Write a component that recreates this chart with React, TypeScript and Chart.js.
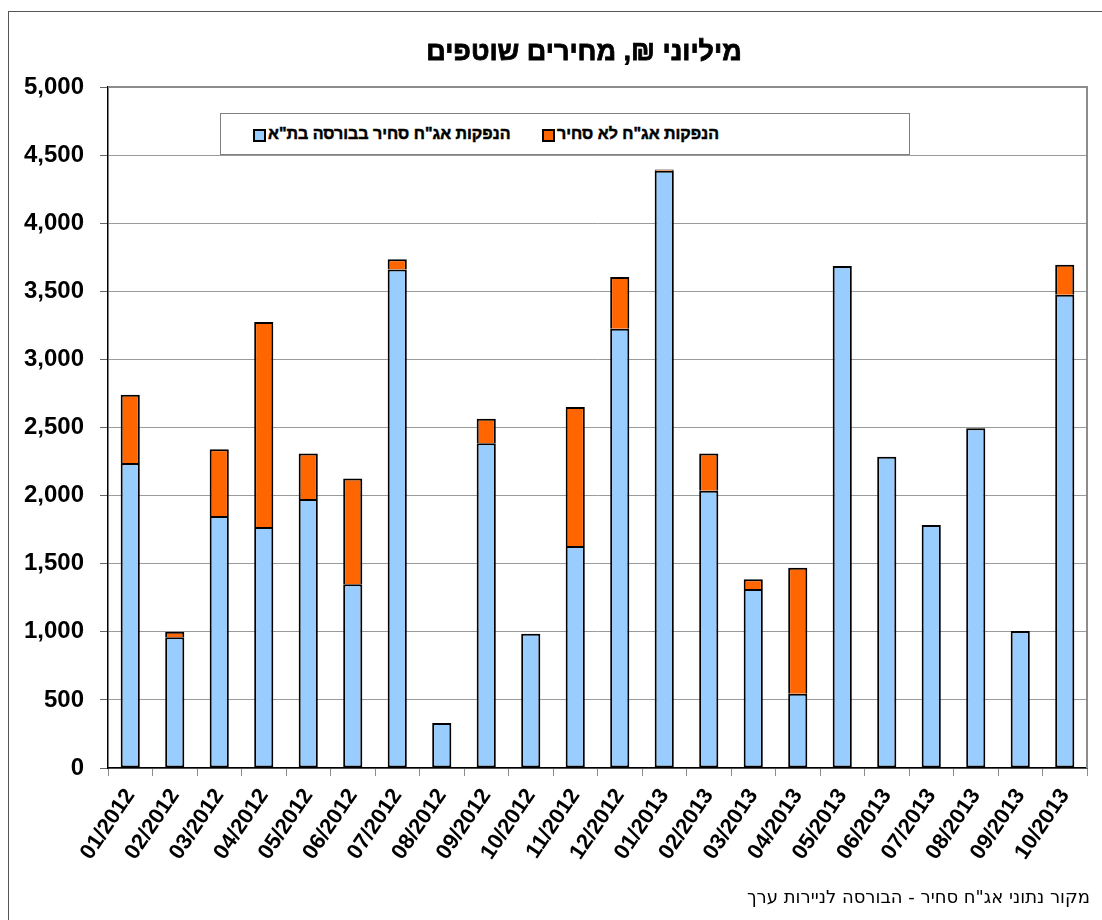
import React, { useEffect, useRef } from "react";
import { Chart, registerables } from "chart.js";

Chart.register(...registerables);

const categories = [
  "01/2012", "02/2012", "03/2012", "04/2012", "05/2012", "06/2012",
  "07/2012", "08/2012", "09/2012", "10/2012", "11/2012", "12/2012",
  "01/2013", "02/2013", "03/2013", "04/2013", "05/2013", "06/2013",
  "07/2013", "08/2013", "09/2013", "10/2013",
];

const tradedValues = [
  2240, 960, 1850, 1770, 1975, 1350, 3660, 330, 2385, 985, 1630, 3225,
  4385, 2035, 1315, 545, 3685, 2285, 1785, 2495, 1005, 3475,
];

const nonTradedValues = [
  500, 40, 490, 1505, 335, 775, 75, null, 180, null, 1020, 380,
  10, 275, 70, 925, null, null, null, null, null, 220,
];

const tradedLabel = 'הנפקות אג"ח סחיר בבורסה בת"א';
const nonTradedLabel = 'הנפקות אג"ח לא סחיר';
const titleText = "מיליוני ₪, מחירים שוטפים";
const sourceText = 'מקור נתוני אג"ח סחיר - הבורסה לניירות ערך';

const FONT = "Arial, 'Liberation Sans', sans-serif";

const plotFrame = {
  id: "plotFrame",
  beforeDatasetsDraw(chart: any) {
    const { ctx, chartArea } = chart;
    ctx.save();
    ctx.strokeStyle = "#8c8c8c";
    ctx.lineWidth = 2;
    ctx.beginPath();
    ctx.moveTo(chartArea.left, chartArea.top);
    ctx.lineTo(chartArea.right, chartArea.top);
    ctx.lineTo(chartArea.right, chartArea.bottom);
    ctx.stroke();
    ctx.restore();
  },
};

export default function App() {
  const canvasRef = useRef<HTMLCanvasElement | null>(null);

  useEffect(() => {
    if (!canvasRef.current) return;
    const chart = new Chart(canvasRef.current, {
      type: "bar",
      data: {
        labels: categories,
        datasets: [
          {
            label: tradedLabel,
            data: tradedValues,
            backgroundColor: "#99CCFF",
            borderColor: "#000000",
            borderWidth: 2,
            borderSkipped: false,
            barPercentage: 0.43,
            categoryPercentage: 1,
          },
          {
            label: nonTradedLabel,
            data: nonTradedValues as any,
            backgroundColor: "#FF6600",
            borderColor: "#000000",
            borderWidth: { top: 2, left: 2, right: 2, bottom: 0 },
            borderSkipped: false,
            barPercentage: 0.43,
            categoryPercentage: 1,
          },
        ],
      },
      options: {
        responsive: false,
        animation: false,
        devicePixelRatio: 1,
        layout: { padding: { top: 87, left: 0, right: 15, bottom: 0 } },
        plugins: {
          legend: { display: false },
          title: { display: false },
          tooltip: { enabled: false },
        },
        scales: {
          x: {
            stacked: true,
            offset: true,
            grid: {
              offset: true,
              drawOnChartArea: false,
              drawTicks: true,
              tickLength: 8,
              color: "#8c8c8c",
            },
            border: { color: "#000000", width: 1.5 },
            ticks: {
              autoSkip: false,
              maxRotation: 56,
              minRotation: 56,
              padding: 8,
              color: "#000000",
              font: { family: FONT, size: 22, weight: "bold" },
            },
            afterFit(scale: any) {
              scale.height = 152;
            },
          },
          y: {
            stacked: true,
            min: 0,
            max: 5000,
            grid: {
              color: "#9a9a9a",
              lineWidth: 1,
              tickLength: 8,
              tickColor: "#666666",
            },
            border: { color: "#000000", width: 1.5 },
            ticks: {
              stepSize: 500,
              padding: 16,
              color: "#000000",
              font: { family: FONT, size: 24, weight: "bold" },
              callback: (v: any) => Number(v).toLocaleString("en-US"),
            },
            afterFit(scale: any) {
              scale.width = 108;
            },
          },
        },
      },
      plugins: [plotFrame],
    });
    return () => chart.destroy();
  }, []);

  const boldText: React.CSSProperties = {
    fontWeight: "bold",
    WebkitTextStroke: "0.5px #000",
  };

  return (
    <div
      style={{
        position: "absolute",
        left: 0,
        top: 0,
        width: 1102,
        height: 920,
        overflow: "hidden",
        background: "#ffffff",
        fontFamily: FONT,
      }}
    >
      <div
        style={{
          position: "absolute",
          left: 8,
          top: 11,
          width: 1300,
          height: 1200,
          border: "1.5px solid #555555",
        }}
      />
      <canvas
        ref={canvasRef}
        width={1102}
        height={920}
        style={{ position: "absolute", left: 0, top: 0, width: 1102, height: 920 }}
      />
      <div
        dir="rtl"
        style={{
          ...boldText,
          WebkitTextStroke: "0.8px #000",
          position: "absolute",
          left: 0,
          width: 1168,
          top: 35,
          textAlign: "center",
          fontSize: 27,
          lineHeight: "32px",
          color: "#000",
        }}
      >
        {titleText}
      </div>
      <div
        style={{
          position: "absolute",
          left: 220,
          top: 113,
          width: 690,
          height: 42,
          boxSizing: "border-box",
          border: "1.5px solid #808080",
          background: "#ffffff",
        }}
      >
        <div
          style={{
            position: "absolute",
            left: 32,
            top: 15,
            width: 9,
            height: 9,
            background: "#99CCFF",
            border: "2px solid #000",
          }}
        />
        <span
          dir="rtl"
          style={{
            ...boldText,
            position: "absolute",
            left: 47,
            top: 9,
            fontSize: 16,
            lineHeight: "22px",
            whiteSpace: "nowrap",
          }}
        >
          {tradedLabel}
        </span>
        <div
          style={{
            position: "absolute",
            left: 321,
            top: 15,
            width: 9,
            height: 9,
            background: "#FF6600",
            border: "2px solid #000",
          }}
        />
        <span
          dir="rtl"
          style={{
            ...boldText,
            position: "absolute",
            left: 336,
            top: 9,
            fontSize: 16,
            lineHeight: "22px",
            whiteSpace: "nowrap",
          }}
        >
          {nonTradedLabel}
        </span>
      </div>
      <div
        dir="rtl"
        style={{
          position: "absolute",
          right: 12,
          top: 885,
          fontSize: 18,
          fontFamily: "'DejaVu Sans', sans-serif",
          lineHeight: "24px",
          whiteSpace: "nowrap",
          color: "#000",
        }}
      >
        {sourceText}
      </div>
    </div>
  );
}
